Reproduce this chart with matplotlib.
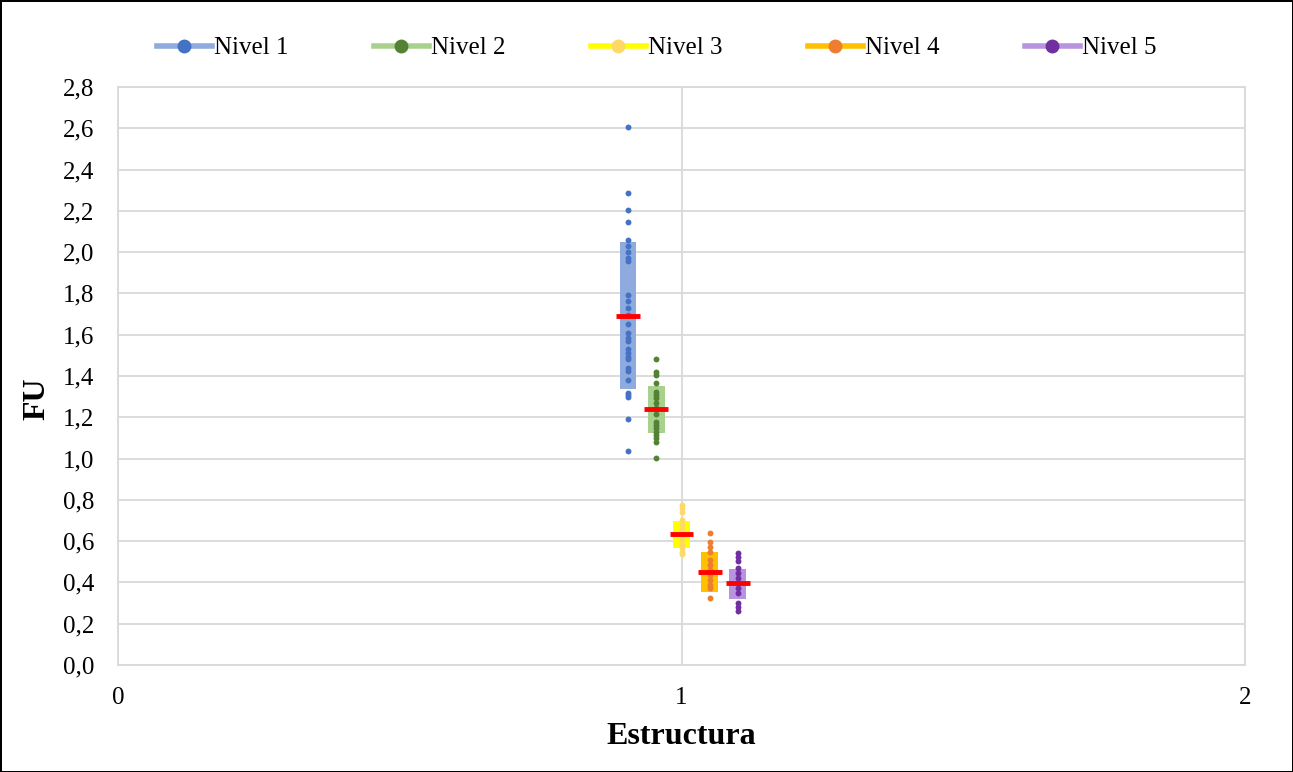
import matplotlib.pyplot as plt
import numpy as np
from matplotlib.lines import Line2D
from matplotlib.ticker import FuncFormatter, MultipleLocator

plt.rcParams['font.family'] = ['Liberation Serif', 'DejaVu Serif']

labels = ['Nivel 1', 'Nivel 2', 'Nivel 3', 'Nivel 4', 'Nivel 5']
x_pos = [0.905, 0.955, 1.0, 1.05, 1.1]

nivel1 = [2.608, 2.288, 2.204, 2.145, 2.061, 2.030, 2.003, 1.970, 1.959, 1.793,
          1.765, 1.730, 1.694, 1.652, 1.607, 1.584, 1.568, 1.533, 1.513, 1.494,
          1.484, 1.437, 1.426, 1.379, 1.319, 1.308, 1.300, 1.190, 1.038]
nivel2 = [1.484, 1.421, 1.405, 1.368, 1.324, 1.308, 1.292, 1.268, 1.244, 1.216,
          1.179, 1.163, 1.147, 1.131, 1.114, 1.098, 1.082, 1.001]
nivel3 = [0.775, 0.759, 0.743, 0.703, 0.678, 0.654, 0.630, 0.606, 0.581, 0.565,
          0.549, 0.540]
nivel4 = [0.638, 0.597, 0.573, 0.549, 0.509, 0.484, 0.460, 0.436, 0.412, 0.388,
          0.372, 0.323]
nivel5 = [0.544, 0.525, 0.505, 0.468, 0.444, 0.420, 0.396, 0.372, 0.347, 0.299,
          0.283, 0.263]
points = [nivel1, nivel2, nivel3, nivel4, nivel5]

q1 = [1.336, 1.123, 0.565, 0.355, 0.318]
q3 = [2.048, 1.352, 0.698, 0.545, 0.465]
median = [1.689, 1.239, 0.635, 0.451, 0.397]

box_colors = ['#8FAADC', '#A9D18E', '#FFFF00', '#FFC000', '#B894E0']
dot_colors = ['#4472C4', '#548235', '#FFD966', '#ED7D31', '#7030A0']

fig = plt.figure(figsize=(12.93, 7.72), dpi=100)
fig.patch.set_edgecolor('black')
fig.patch.set_linewidth(2)
ax = fig.add_axes([0.0913, 0.1386, 0.8716, 0.7487])

for i in range(5):
  ax.bar(x_pos[i], q3[i] - q1[i], bottom=q1[i], width=0.03,
         color=box_colors[i], zorder=2)
  ax.scatter([x_pos[i]] * len(points[i]), points[i], s=18,
             color=dot_colors[i], zorder=3, linewidths=0)
  ax.plot([x_pos[i] - 0.021, x_pos[i] + 0.021], [median[i], median[i]],
          color='#FF0000', lw=3.5, solid_capstyle='butt', zorder=4)

ax.set_xlim(0, 2)
ax.set_ylim(0, 2.8)
ax.xaxis.set_major_locator(MultipleLocator(1))
ax.yaxis.set_major_locator(MultipleLocator(0.2))
ax.yaxis.set_major_formatter(FuncFormatter(lambda v, p: f"{v:.1f}".replace('.', ',')))
ax.grid(True, color='#D9D9D9', lw=1.3, zorder=0)
ax.set_axisbelow(True)
for s in ax.spines.values():
  s.set_color('#D9D9D9')
  s.set_linewidth(1.3)
ax.tick_params(axis='y', length=0, labelsize=18, pad=17)
ax.tick_params(axis='x', length=0, labelsize=18, pad=16)
ax.set_xlabel('Estructura', fontsize=23, fontweight='bold', va='center')
ax.set_ylabel('FU', fontsize=23, fontweight='bold', va='center')
ax.xaxis.set_label_coords(0.5, -0.124)
ax.yaxis.set_label_coords(-0.072, 0.46)

handles = [Line2D([], [], color=box_colors[i], lw=4, marker='o', markersize=9,
                  markerfacecolor=dot_colors[i], markeredgecolor=dot_colors[i])
           for i in range(5)]
fig.legend(handles, labels, loc='center', bbox_to_anchor=(0.508, 1 - 48 / 772),
           ncol=5, frameon=False, fontsize=18, columnspacing=3.4,
           handlelength=2.2, handletextpad=0.1, borderpad=0)

fig.savefig('out.png', dpi=100)
